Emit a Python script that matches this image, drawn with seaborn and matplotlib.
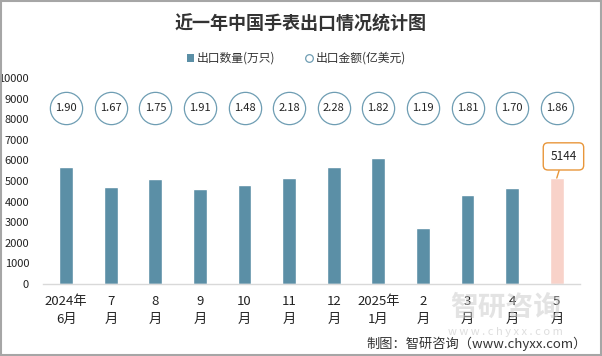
import matplotlib.pyplot as plt
import pandas as pd
import seaborn as sns
from matplotlib.patches import Rectangle

# data
months = ['2024年\n6月', '7\n月', '8\n月', '9\n月', '10\n月', '11\n月', '12\n月',
          '2025年\n1月', '2\n月', '3\n月', '4\n月', '5\n月']
quantity = [5680, 4700, 5090, 4600, 4800, 5140, 5680, 6120, 2700, 4310, 4650, 5144]
amount = [1.90, 1.67, 1.75, 1.91, 1.48, 2.18, 2.28, 1.82, 1.19, 1.81, 1.70, 1.86]
circle_level = 8550  # circles all sit on one row

bar_color = '#5B8FA6'
last_color = '#F8D2C9'
circle_edge = '#6E9DB3'

df = pd.DataFrame({'month': months, 'quantity': quantity, 'amount': amount})

sns.set_style('white')
plt.rcParams['font.family'] = ['Noto Sans CJK SC', 'DejaVu Sans']

fig = plt.figure(figsize=(6.02, 3.56), dpi=100)
ax = fig.add_axes([0.0714, 0.2022, 0.892, 0.5787])

palette = [bar_color] * (len(months) - 1) + [last_color]
sns.barplot(data=df, x='month', y='quantity', hue='month', palette=palette,
            width=0.31, legend=False, ax=ax, saturation=1)

ax.scatter(range(len(months)), [circle_level] * len(months), s=540,
           facecolor='white', edgecolor=circle_edge, linewidth=0.9, zorder=3)
for i, v in enumerate(amount):
    ax.text(i, circle_level, f'{v:.2f}', ha='center', va='center',
            fontsize=8, color='#222222', zorder=4)

# callout on the last bar
ax.annotate(str(quantity[-1]), xy=(len(months) - 1, quantity[-1]),
            xytext=(len(months) - 1 + 0.15, quantity[-1] + 1050),
            ha='center', va='center', fontsize=8.5, color='#222222',
            bbox=dict(boxstyle='round,pad=0.6,rounding_size=0.4', fc='white',
                      ec='#E8963A', lw=1),
            arrowprops=dict(arrowstyle='-', color='#E8963A', lw=1,
                            shrinkA=0, shrinkB=0))

ax.set_xlim(-0.52, len(months) - 0.48)
ax.set_ylim(0, 10000)
ax.set_yticks(range(0, 10001, 1000))
ax.tick_params(axis='y', labelsize=8, length=0, pad=10, colors='#222222')
ax.tick_params(axis='x', labelsize=9.5, length=0, pad=8, colors='#222222')
for lab in ax.get_xticklabels():
    lab.set_linespacing(1.45)
ax.set_xlabel('')
ax.set_ylabel('')
for side in ['top', 'right', 'left']:
    ax.spines[side].set_visible(False)
ax.spines['bottom'].set_color('#D9D9D9')
ax.spines['bottom'].set_linewidth(1)

fig.text(0.5, 0.932, '近一年中国手表出口情况统计图', ha='center', va='center',
         fontsize=13, fontweight='bold', color='#333333')

# legend
fig.patches.append(Rectangle((0.3105, 0.826), 0.0125, 0.021, transform=fig.transFigure,
                             fc=bar_color, ec='none'))
fig.text(0.327, 0.837, '出口数量(万只)', ha='left', va='center', fontsize=8.5,
         color='#333333')
fig.lines.append(plt.Line2D([0.513], [0.837], transform=fig.transFigure,
                            marker='o', ms=5.5, mfc='white', mec=circle_edge,
                            mew=0.9, ls='none'))
fig.text(0.524, 0.837, '出口金额(亿美元)', ha='left', va='center', fontsize=8.5,
         color='#333333')

# watermark and source
fig.text(0.84, 0.135, '智研咨询', ha='center', va='center', fontsize=20,
         color='#C8C8C8', alpha=0.5, fontweight='bold')
fig.text(0.84, 0.068, 'w w w . c h y x x . c o m', ha='center', va='center',
         fontsize=8, color='#C8C8C8', alpha=0.6)
fig.text(0.975, 0.034, '制图：智研咨询（www.chyxx.com）', ha='right', va='center',
         fontsize=9.5, color='#333333')

fig.patches.append(Rectangle((0.002, 0.003), 0.996, 0.994, transform=fig.transFigure,
                             fill=False, ec='#A6A6A6', lw=1.5))

fig.savefig('out.png', dpi=100)
